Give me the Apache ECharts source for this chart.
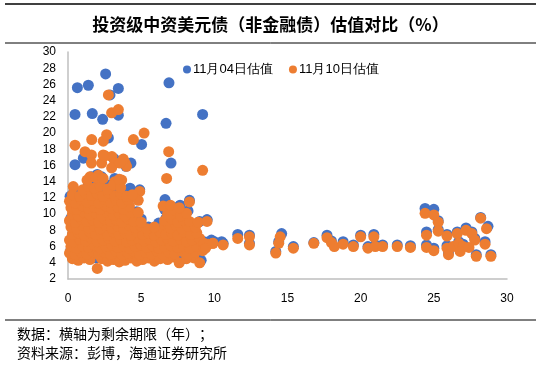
<!DOCTYPE html>
<html>
<head>
<meta charset="utf-8">
<script src="https://cdn.jsdelivr.net/npm/echarts@6/dist/echarts.min.js"></script>
<style>
  html, body { margin: 0; padding: 0; background: #fff; }
  #scatter { width: 541px; height: 376px; }
</style>
</head>
<body>
<div id="scatter"></div>
<script>
  // 图例名称
  var seriesNames = ['11月04日估值', '11月10日估值']

  // 11月04日：[剩余期限(年), 估值(%)]
  var val1104 = [
    [0.64, 25.6], [1.39, 25.9], [2.57, 27.3], [3.44, 25.5], [2.87, 24.7],
    [0.48, 22.3], [1.66, 22.4], [2.37, 21.7], [3.44, 22.2], [6.9, 26.2],
    [6.7, 21.2], [9.2, 22.3], [5.03, 18.6], [0.48, 16.1], [1.05, 16.9],
    [7.04, 16.3], [2.76, 19.4], [3.1, 16.9], [3.22, 16.7], [3.96, 15.9],
    [2.3, 14.6], [4.24, 13.2], [6.63, 11.8], [7.66, 11.1], [0.14, 12.2],
    [0.36, 6.8], [9.0, 4.3], [2.0, 14.9], [4.3, 16.3],
    // 密集区
    [0.3, 4.7], [0.8, 4.5], [1.3, 4.8], [1.9, 4.6], [2.5, 4.7], [3.0, 4.5], [3.6, 4.3], [4.2, 4.8],
    [4.8, 4.4], [5.4, 4.7], [6.0, 4.4], [6.6, 4.7], [7.3, 4.8], [7.9, 4.5], [8.5, 4.8],
    [0.2, 5.6], [0.9, 5.5], [1.6, 5.7], [2.3, 5.4], [3.0, 5.6], [3.7, 5.3], [4.4, 5.7], [5.1, 5.4],
    [5.8, 5.5], [6.5, 5.3], [7.2, 5.6], [7.9, 5.7], [8.6, 5.5], [9.3, 5.8],
    [0.5, 6.5], [1.2, 6.3], [1.9, 6.6], [2.6, 6.4], [3.3, 6.7], [4.0, 6.3], [4.7, 6.5], [5.4, 6.4],
    [6.1, 6.6], [6.8, 6.4], [7.5, 6.5], [8.2, 6.3], [8.9, 6.6], [9.8, 6.8], [10.5, 6.6],
    [0.3, 7.4], [1.0, 7.6], [1.7, 7.3], [2.4, 7.7], [3.1, 7.5], [3.8, 7.2], [4.5, 7.6], [5.2, 7.4],
    [5.9, 7.7], [6.6, 7.5], [7.3, 7.3], [8.0, 7.6], [8.7, 7.4],
    [0.6, 8.5], [1.3, 8.3], [2.0, 8.7], [2.7, 8.4], [3.4, 8.6], [4.1, 8.3], [4.8, 8.7], [5.5, 8.4],
    [6.2, 8.9], [6.9, 8.6], [7.6, 8.5], [8.3, 8.8], [9.0, 9.1],
    [0.2, 9.5], [0.9, 9.3], [1.6, 9.6], [2.3, 9.4], [3.0, 9.7], [3.7, 9.3], [4.4, 9.6], [5.0, 9.4],
    [6.7, 9.5], [7.3, 9.8], [8.0, 9.5], [9.5, 9.3],
    [0.4, 10.6], [1.1, 10.4], [1.8, 10.7], [2.5, 10.5], [3.2, 10.8], [3.9, 10.4], [4.7, 10.3],
    [6.6, 10.6], [7.4, 10.8], [8.2, 10.4],
    [0.6, 11.7], [1.3, 11.5], [2.0, 11.8], [2.7, 11.6], [3.4, 11.9], [4.1, 11.5], [8.3, 11.7],
    [0.4, 12.7], [1.1, 12.5], [1.8, 12.8], [2.5, 12.6], [3.2, 12.9], [3.9, 12.6], [4.9, 13.0],
    [1.4, 13.7], [2.1, 13.9], [2.8, 13.6], [3.5, 13.8], [1.6, 14.6], [3.2, 14.4],
    // 长端
    [9.5, 9.3], [9.3, 6.6], [9.1, 4.3], [10.0, 6.6], [10.6, 6.4], [11.6, 7.5], [12.4, 7.4],
    [12.4, 6.4], [14.6, 7.6], [14.4, 6.6], [14.2, 5.4], [15.4, 6.0], [16.8, 6.5], [17.7, 7.4],
    [18.0, 6.7], [18.8, 6.6], [19.5, 6.2], [20.0, 7.4], [20.5, 6.0], [20.9, 7.5], [21.0, 6.2],
    [21.5, 6.2], [22.5, 6.2], [23.4, 6.1], [24.4, 10.7], [25.0, 10.6], [25.3, 9.2], [25.3, 8.1],
    [24.5, 7.8], [24.5, 6.2], [25.0, 5.8], [25.9, 7.5], [25.9, 6.1], [26.0, 5.2], [26.6, 7.8],
    [26.7, 6.6], [27.0, 6.3], [27.2, 8.3], [27.6, 7.8], [27.8, 7.0], [28.2, 9.6], [28.7, 8.5],
    [28.5, 6.6], [27.9, 5.0], [28.9, 5.0]
  ]

  // 11月10日：[剩余期限(年), 估值(%)]
  var val1110 = [
    [2.76, 24.7], [2.98, 22.5], [3.44, 22.9], [0.48, 18.5], [1.62, 19.2], [2.41, 19.0],
    [2.64, 19.8], [4.47, 19.2], [5.2, 20.0], [6.88, 17.7], [9.2, 15.4], [6.74, 14.4],
    [1.16, 17.7], [1.6, 17.3], [2.4, 17.3], [3.0, 17.1], [3.9, 16.3], [1.6, 16.3], [2.3, 16.3],
    [3.2, 16.3], [4.0, 15.9], [2.53, 17.2], [2.98, 15.7], [3.78, 16.8], [3.55, 16.3],
    [1.5, 14.6], [2.07, 14.8], [3.2, 14.0], [3.67, 14.2], [0.36, 13.4], [4.9, 12.8],
    // 密集区
    [0.3, 4.5], [0.7, 4.3], [1.1, 4.6], [1.5, 4.4], [2.0, 3.3], [2.3, 4.5], [2.7, 4.2], [3.1, 4.4],
    [3.5, 4.1], [3.9, 4.3], [4.3, 4.6], [4.7, 4.2], [5.1, 4.4], [5.5, 4.6], [5.9, 4.2], [6.3, 4.5],
    [6.8, 4.4], [7.2, 4.7], [7.6, 4.0], [8.1, 4.5], [8.6, 4.6], [9.0, 4.0],
    [0.1, 5.2], [0.5, 5.0], [0.9, 5.3], [1.3, 5.1], [1.7, 5.4], [2.1, 5.0], [2.5, 5.3], [2.9, 5.1],
    [3.3, 5.4], [3.7, 5.0], [4.1, 5.2], [4.5, 5.4], [4.9, 5.0], [5.3, 5.3], [5.7, 5.1], [6.1, 5.4],
    [6.5, 5.0], [6.9, 5.3], [7.3, 5.1], [7.8, 5.4], [8.2, 5.0], [8.7, 5.3], [9.2, 5.5],
    [0.2, 6.0], [0.6, 5.8], [1.0, 6.1], [1.4, 5.9], [1.8, 6.2], [2.2, 5.8], [2.6, 6.0], [3.0, 6.2],
    [3.4, 5.9], [3.8, 6.1], [4.2, 5.8], [4.6, 6.0], [5.0, 6.2], [5.4, 5.9], [5.8, 6.1], [6.2, 5.8],
    [6.6, 6.0], [7.0, 6.2], [7.5, 5.9], [7.9, 6.1], [8.3, 5.8], [8.8, 6.0], [9.3, 5.9], [9.6, 6.3],
    [9.9, 6.4],
    [0.1, 6.8], [0.4, 6.6], [0.8, 6.9], [1.2, 6.7], [1.6, 7.0], [2.0, 6.6], [2.4, 6.8], [2.8, 7.0],
    [3.2, 6.7], [3.6, 6.9], [4.0, 6.6], [4.4, 6.8], [4.8, 7.0], [5.2, 6.7], [5.6, 6.9], [6.0, 6.6],
    [6.4, 6.8], [6.8, 7.0], [7.2, 6.7], [7.7, 6.9], [8.1, 6.6], [8.5, 6.8], [9.0, 7.0],
    [0.3, 7.5], [0.7, 7.7], [1.1, 7.4], [1.5, 7.8], [1.9, 7.5], [2.3, 7.7], [2.7, 7.4], [3.1, 7.8],
    [3.5, 7.5], [3.9, 7.7], [4.3, 7.4], [4.7, 7.8], [5.1, 7.5], [5.5, 7.7], [5.9, 7.4], [6.3, 7.8],
    [6.7, 7.5], [7.1, 7.7], [7.5, 7.4], [7.9, 7.8], [8.4, 7.5], [8.8, 7.7],
    [0.2, 8.4], [0.6, 8.2], [1.0, 8.6], [1.4, 8.3], [1.8, 8.5], [2.2, 8.2], [2.6, 8.6], [3.0, 8.3],
    [3.4, 8.5], [3.8, 8.2], [4.2, 8.6], [4.6, 8.3], [5.0, 8.5], [5.4, 8.2], [5.9, 8.4], [6.6, 8.7],
    [7.0, 8.3], [7.4, 8.6], [7.8, 8.2], [8.2, 8.5], [8.7, 8.4],
    [0.1, 9.2], [0.5, 9.0], [0.9, 9.4], [1.3, 9.1], [1.7, 9.3], [2.1, 9.0], [2.5, 9.4], [2.9, 9.1],
    [3.3, 9.3], [3.7, 9.0], [4.1, 9.4], [4.5, 9.1], [5.0, 9.0], [6.6, 9.2], [7.1, 9.4], [7.5, 9.0],
    [7.9, 9.3], [8.3, 9.1], [8.9, 9.0],
    [0.3, 10.0], [0.7, 9.8], [1.1, 10.2], [1.5, 9.9], [1.9, 10.1], [2.3, 9.8], [2.7, 10.2], [3.1, 9.9],
    [3.5, 10.1], [3.9, 9.8], [4.3, 10.2], [4.8, 10.2], [6.8, 10.0], [7.3, 10.5], [7.7, 9.8], [8.1, 10.1],
    [0.2, 10.8], [0.6, 10.6], [1.0, 11.0], [1.4, 10.7], [1.8, 10.9], [2.2, 10.6], [2.6, 11.0], [3.0, 10.7],
    [3.4, 10.9], [3.8, 10.6], [4.2, 11.0], [6.5, 11.0], [7.0, 11.1], [7.6, 10.8], [8.3, 11.5],
    [0.1, 11.6], [0.5, 11.4], [0.9, 11.8], [1.3, 11.5], [1.7, 11.7], [2.1, 11.4], [2.5, 11.8], [2.9, 11.5],
    [3.3, 11.7], [3.7, 11.4], [4.1, 11.8], [4.8, 11.7],
    [0.3, 12.4], [0.8, 12.2], [1.2, 12.6], [1.6, 12.3], [2.0, 12.5], [2.4, 12.2], [2.8, 12.6], [3.2, 12.3],
    [3.6, 12.5], [4.0, 12.2], [4.4, 12.4],
    [1.0, 13.0], [1.4, 13.4], [1.8, 13.2], [2.2, 13.5], [2.7, 13.1], [3.1, 13.6], [3.6, 13.3],
    [1.3, 14.2], [1.9, 14.5], [2.4, 14.4], [3.5, 14.3],
    // 长端
    [9.5, 9.1], [9.3, 6.4], [9.4, 5.8], [9.9, 6.4], [10.6, 6.2], [11.6, 7.0], [12.4, 7.2], [12.4, 6.2],
    [14.5, 7.2], [14.4, 6.4], [14.2, 5.2], [15.4, 5.8], [16.8, 6.4], [17.7, 7.1], [18.0, 6.5],
    [18.2, 6.0], [18.8, 6.3], [19.5, 6.0], [20.0, 7.2], [20.5, 5.8], [20.9, 7.2], [21.0, 6.0],
    [21.5, 6.0], [22.5, 6.0], [23.4, 5.9], [24.4, 10.1], [25.0, 9.9], [25.3, 9.0], [25.3, 7.9],
    [24.5, 7.4], [24.5, 5.9], [25.0, 5.5], [25.9, 7.3], [25.9, 5.8], [26.0, 5.0], [26.3, 6.0],
    [26.6, 7.6], [26.7, 6.4], [27.0, 6.0], [27.2, 8.0], [27.6, 7.6], [27.8, 6.8], [28.2, 9.5],
    [28.6, 8.2], [28.5, 6.3], [27.9, 4.8], [28.9, 4.8], [26.8, 5.4], [27.4, 5.9]
  ]

  var yTicks = { min: 2, max: 30, interval: 2 }
  var xTicks = { min: 0, max: 30, interval: 5 }

  var chart = echarts.init(document.getElementById('scatter'))
  var cjk = 'Noto Sans CJK SC'
  var latin = 'Liberation Sans, Arial, sans-serif'

  var option = {
    animation: false,
    color: ['#4472C4', '#ED7D31'],
    title: {
      text: '投资级中资美元债（非金融债）估值对比（%）',
      left: 'center',
      top: 11,
      textStyle: {
        fontFamily: cjk,
        fontSize: 17,
        fontWeight: 'bold',
        color: '#000'
      }
    },
    legend: {
      data: seriesNames,
      left: 178,
      top: 58,
      icon: 'circle',
      itemWidth: 8,
      itemHeight: 8,
      itemGap: 16,
      textStyle: { fontFamily: latin, fontSize: 13, color: '#000', padding: [0, 0, 0, -3] }
    },
    grid: {
      left: 68,
      right: 34,
      top: 52,
      bottom: 97
    },
    xAxis: {
      type: 'value',
      min: xTicks.min,
      max: xTicks.max,
      interval: xTicks.interval,
      splitLine: { show: false },
      axisTick: { show: false },
      axisLine: { lineStyle: { color: '#bfbfbf', width: 1.5 } },
      axisLabel: { color: '#000', fontFamily: latin, fontSize: 12, margin: 14 }
    },
    yAxis: {
      type: 'value',
      min: yTicks.min,
      max: yTicks.max,
      interval: yTicks.interval,
      splitLine: { show: false },
      axisTick: { show: false },
      axisLine: { show: true, lineStyle: { color: '#bfbfbf', width: 1.5 } },
      axisLabel: { color: '#000', fontFamily: latin, fontSize: 12, margin: 12 }
    },
    series: [{
      name: seriesNames[0],
      type: 'scatter',
      symbolSize: 11,
      data: val1104,
      itemStyle: { opacity: 1 }
    }, {
      name: seriesNames[1],
      type: 'scatter',
      symbolSize: 11,
      data: val1110,
      itemStyle: { opacity: 1 }
    }],
    graphic: [
      { type: 'line', shape: { x1: 5, y1: 4, x2: 536, y2: 4 }, style: { stroke: '#000', lineWidth: 1.5 } },
      { type: 'line', shape: { x1: 5, y1: 43, x2: 536, y2: 43 }, style: { stroke: '#000', lineWidth: 1 } },
      { type: 'line', shape: { x1: 5, y1: 320, x2: 536, y2: 320 }, style: { stroke: '#000', lineWidth: 1 } },
      { type: 'text', left: 17, top: 327, style: { text: '数据：横轴为剩余期限（年）；', font: '14px "Noto Sans CJK SC"', fill: '#000' } },
      { type: 'text', left: 17, top: 346, style: { text: '资料来源：彭博，海通证券研究所', font: '14px "Noto Sans CJK SC"', fill: '#000' } }
    ]
  }
  chart.setOption(option)
</script>
</body>
</html>
